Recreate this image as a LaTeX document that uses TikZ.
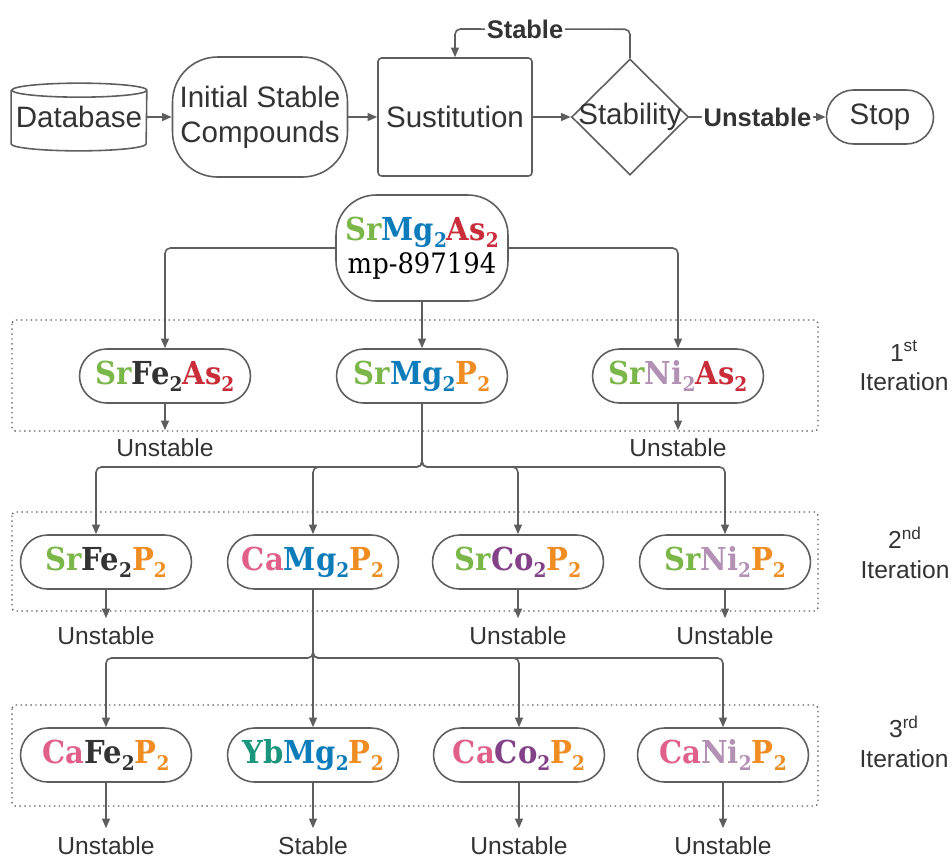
\documentclass[tikz,border=0pt]{standalone}
\usepackage{fontspec}
\setmainfont{Liberation Sans}
\newfontfamily\slab[FakeStretch=0.92]{DejaVu Serif}
\usetikzlibrary{arrows.meta,shapes.geometric}
\definecolor{ln}{HTML}{5E5E5E}
\definecolor{tx}{HTML}{333333}
\definecolor{sr}{HTML}{7AB648}
\definecolor{mg}{HTML}{0C7CBA}
\definecolor{as}{HTML}{C92D39}
\definecolor{fe}{HTML}{333333}
\definecolor{ph}{HTML}{EF8D22}
\definecolor{ni}{HTML}{B391B5}
\definecolor{co}{HTML}{834187}
\definecolor{ca}{HTML}{E0608A}
\definecolor{yb}{HTML}{19967D}
\newcommand{\subn}[1]{\raisebox{-4pt}{\fontsize{11.5}{11.5}\selectfont #1}}
\newcommand{\elm}[2]{\textcolor{#1}{#2}}
\newcommand{\elmt}[2]{\textcolor{#1}{#2\subn{2}}}
\tikzset{
	con/.style={draw=ln, line width=0.9pt, rounded corners=3pt, -{Triangle[length=5.5pt,width=4.5pt]}},
	shp/.style={draw=ln, line width=0.9pt, fill=white},
	cmp/.style={shp, rounded corners=0.54cm, minimum width=3.42cm, minimum height=1.08cm, inner sep=0pt, font=\slab\bfseries\fontsize{18}{20}\selectfont},
	frm/.style={draw=ln, dotted, line width=0.8pt, rounded corners=2pt},
	big/.style={text=tx, font=\fontsize{16.8}{20}\selectfont, inner sep=0pt},
	lbl/.style={text=tx, font=\fontsize{14}{17}\selectfont, inner sep=0pt, outer sep=5pt},
	blbl/.style={text=tx, font=\bfseries\fontsize{14.5}{17}\selectfont, fill=white, inner sep=1pt},
}

\begin{document}
\begin{tikzpicture}[x=0.02cm, y=-0.02cm]
	\useasboundingbox (0,0) rectangle (952,860);

	\draw[frm] (12,320) rectangle (818,431);
	\draw[frm] (12,512) rectangle (818,611);
	\draw[frm] (12,705) rectangle (818,806);

	\node[big, minimum width=2.7cm, minimum height=1.34cm] (db) at (79,117) {Database};
	\draw[draw=ln, line width=0.9pt] ([yshift=-0.14cm]db.north west) -- ([yshift=0.14cm]db.south west)
		arc[start angle=180, end angle=360, x radius=1.35cm, y radius=0.14cm]
		-- ([yshift=-0.14cm]db.north east)
		arc[start angle=0, end angle=180, x radius=1.35cm, y radius=0.14cm]
		arc[start angle=180, end angle=360, x radius=1.35cm, y radius=0.14cm];
	\node[shp, big, rounded corners=0.9cm, minimum width=3.5cm, minimum height=2.4cm, align=center] (init) at (260,117) {Initial Stable\\Compounds};
	\node[shp, big, rounded corners=2pt, minimum width=3.08cm, minimum height=2.36cm] (sub) at (455,117) {Sustitution};
	\node[shp, diamond, minimum width=2.34cm, minimum height=2.32cm, inner sep=0pt] (stab) at (630,117) {};
	\node[big] (stabt) at (stab) {Stability};
	\node[shp, big, rounded corners=0.54cm, minimum width=2.14cm, minimum height=1.08cm] (stop) at (880,117) {Stop};

	\draw[con] (db) -- (init);
	\draw[con] (init) -- (sub);
	\draw[con] (sub) -- (stab);
	\draw[con] (stab) -- node[blbl] {Unstable} (stop);
	\draw[con] (stab.north) -- ++(0,-29) -- node[blbl, pos=0.6] {Stable} (sub.north |- 0,29) -- (sub.north);

	\node[shp, rounded corners=0.8cm, minimum width=3.44cm, minimum height=2.12cm, align=center, inner sep=0pt] (root) at (422,248)
		{{\slab\bfseries\fontsize{18}{20}\selectfont \elm{sr}{Sr}\elmt{mg}{Mg}\elmt{as}{As}}\\[2pt]{\slab\fontsize{16}{20}\selectfont mp-897194}};

	\node[cmp] (f1) at (165,376) {\elm{sr}{Sr}\elmt{fe}{Fe}\elmt{as}{As}};
	\node[cmp] (m1) at (422,376) {\elm{sr}{Sr}\elmt{mg}{Mg}\elmt{ph}{P}};
	\node[cmp] (n1) at (678,376) {\elm{sr}{Sr}\elmt{ni}{Ni}\elmt{as}{As}};

	\draw[con] (root.west) -| (f1.north);
	\draw[con] (root) -- (m1);
	\draw[con] (root.east) -| (n1.north);

	\node[lbl] (u11) at (165,448) {Unstable};
	\node[lbl] (u13) at (678,448) {Unstable};
	\draw[con] (f1) -- (u11);
	\draw[con] (n1) -- (u13);

	\node[cmp] (f2) at (106,562) {\elm{sr}{Sr}\elmt{fe}{Fe}\elmt{ph}{P}};
	\node[cmp] (c2) at (313,562) {\elm{ca}{Ca}\elmt{mg}{Mg}\elmt{ph}{P}};
	\node[cmp] (o2) at (518,562) {\elm{sr}{Sr}\elmt{co}{Co}\elmt{ph}{P}};
	\node[cmp] (n2) at (725,562) {\elm{sr}{Sr}\elmt{ni}{Ni}\elmt{ph}{P}};

	\coordinate (j1) at (422,467);
	\draw[con] (m1) -- (j1) -| ([xshift=-0.2cm]f2.north);
	\draw[con] (m1) -- (j1) -| (c2.north);
	\draw[con] (m1) -- (j1) -| (o2.north);
	\draw[con] (m1) -- (j1) -| (n2.north);

	\node[lbl] (u21) at (106,636) {Unstable};
	\node[lbl] (u23) at (518,636) {Unstable};
	\node[lbl] (u24) at (725,636) {Unstable};
	\draw[con] (f2) -- (u21);
	\draw[con] (o2) -- (u23);
	\draw[con] (n2) -- (u24);

	\node[cmp] (f3) at (106,755) {\elm{ca}{Ca}\elmt{fe}{Fe}\elmt{ph}{P}};
	\node[cmp] (y3) at (313,755) {\elm{yb}{Yb}\elmt{mg}{Mg}\elmt{ph}{P}};
	\node[cmp] (o3) at (519,755) {\elm{ca}{Ca}\elmt{co}{Co}\elmt{ph}{P}};
	\node[cmp] (n3) at (723,755) {\elm{ca}{Ca}\elmt{ni}{Ni}\elmt{ph}{P}};

	\coordinate (j2) at (313,658);
	\draw[con] (c2) -- (j2) -| (f3.north);
	\draw[con] (c2) -- (j2) -| (y3.north);
	\draw[con] (c2) -- (j2) -| (o3.north);
	\draw[con] (c2) -- (j2) -| (n3.north);

	\node[lbl] (u31) at (106,846) {Unstable};
	\node[lbl] (u32) at (313,846) {Stable};
	\node[lbl] (u33) at (519,846) {Unstable};
	\node[lbl] (u34) at (723,846) {Unstable};
	\draw[con] (f3) -- (u31);
	\draw[con] (y3) -- (u32);
	\draw[con] (o3) -- (u33);
	\draw[con] (n3) -- (u34);

	\node[lbl, align=center] (it1) at (904,366) {1\textsuperscript{st}\\Iteration};
	\node[lbl, align=center] (it2) at (905,553) {2\textsuperscript{nd}\\Iteration};
	\node[lbl, align=center] (it3) at (904,742) {3\textsuperscript{rd}\\Iteration};
\end{tikzpicture}
\end{document}
